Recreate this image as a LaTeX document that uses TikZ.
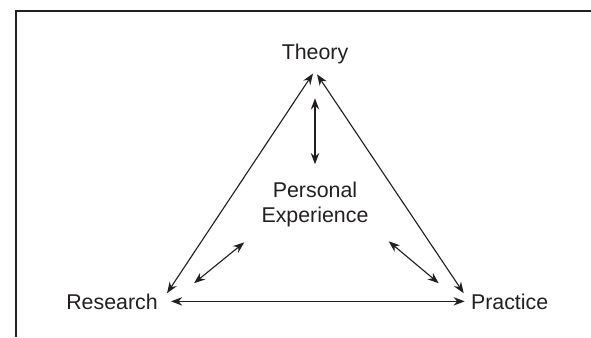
\documentclass[tikz,border=0pt]{standalone}
\usepackage{fontspec}
\setmainfont{Liberation Sans}
\usepackage{xcolor}
\usepackage{tikz}
\usetikzlibrary{arrows.meta, positioning}
\definecolor{inkgray}{RGB}{35, 31, 32}

\begin{document}
\begin{tikzpicture}[
    label/.style={inkgray, inner sep=0.15cm, font=\fontsize{15.2}{17.8}\selectfont},
    link/.style={inkgray, line width=0.8pt, {Stealth[length=2.8mm, width=2.1mm, inset=0.9mm]}-{Stealth[length=2.8mm, width=2.1mm, inset=0.9mm]}}
  ]
    % Page area and partial frame
    \useasboundingbox (0,0) rectangle (14.775, 8.425);
    \draw[inkgray, line width=0.9pt] (0.4, 0) |- (14.775, 8.15);

    % Corners of the triangle
    \node[label, anchor=base] (theory) at (7.875, 6.925) {Theory};
    \node[label, anchor=base] (research) at (2.8, 0.7) {Research};
    \node[label, anchor=base] (practice) at (12.74, 0.7) {Practice};

    % Centre
    \node[label, align=center] (personal) at (7.875, 3.325) {Personal\\Experience};

    % Sides of the triangle
    \draw[link] ([xshift=-0.05cm, yshift=-0.07cm]theory.south) -- ([xshift=0.075cm, yshift=-0.15cm]research.north east);
    \draw[link] ([xshift=0.05cm, yshift=-0.09cm]theory.south) -- ([xshift=-0.025cm, yshift=-0.15cm]practice.north west);
    \draw[link, shorten <=0.175cm] (research.east) -- (research.east -| practice.west);

    % Spokes from the centre
    \draw[link, shorten <=0.275cm, shorten >=0.69cm] (personal.north) -- (personal.north |- theory.south);
    \draw[link] ([shift={(-0.275,-0.24)}]personal.south west) -- ([shift={(0.75,0.1)}]research.north east);
    \draw[link] ([shift={(0.35,-0.215)}]personal.south east) -- ([shift={(-0.65,0.1)}]practice.north west);
\end{tikzpicture}
\end{document}
